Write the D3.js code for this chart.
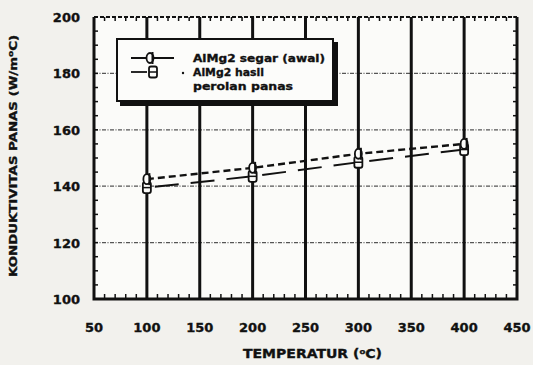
<!DOCTYPE html>
<html>
<head>
<meta charset="utf-8">
<script src="https://cdn.jsdelivr.net/npm/d3@7"></script>
<style>
  body { margin: 0; background: #f2f1ed; }
  svg { display: block; }
  text { font-family: 'DejaVu Sans', sans-serif; font-weight: bold; fill: #111; stroke: #111; stroke-width: 0.35px; }
</style>
</head>
<body>
<div id="chart"></div>
<script>
// data
const temps = [100, 200, 300, 400];
const segarValues = [142.5, 146.5, 151.5, 155];
const hasilValues = [139.5, 143.5, 148.5, 153];
const xTicks = [50, 100, 150, 200, 250, 300, 350, 400, 450];
const yTicks = [100, 120, 140, 160, 180, 200];
const gridVertical = [100, 150, 200, 250, 300, 350, 400];
const gridHorizontal = [120, 140, 160, 180];
const legendLabels = ['AlMg2 segar (awal)', 'AlMg2 hasil', 'perolan panas'];

const width = 533, height = 365;
const svg = d3.select('#chart').append('svg')
  .attr('width', width)
  .attr('height', height);

const x = d3.scaleLinear().domain([50, 450]).range([94, 517]);
const y = d3.scaleLinear().domain([100, 200]).range([299, 17]);

// plot background
svg.append('rect')
  .attr('x', x(50)).attr('y', y(200))
  .attr('width', x(450) - x(50)).attr('height', y(100) - y(200))
  .attr('fill', '#fbfbf9');

// horizontal dotted gridlines
svg.append('g')
  .selectAll('line').data(gridHorizontal).enter()
  .append('line')
  .attr('x1', x(50)).attr('x2', x(450))
  .attr('y1', d => y(d)).attr('y2', d => y(d))
  .style('stroke', '#555')
  .style('stroke-width', 1.2)
  .style('stroke-dasharray', '4,1.5,1,1.5');

// minor ticks on x (bottom and top)
const xMinor = d3.range(50, 451, 10);
svg.append('g').selectAll('line').data(xMinor).enter()
  .append('line')
  .attr('x1', d => x(d)).attr('x2', d => x(d))
  .attr('y1', y(100)).attr('y2', y(100) - 5)
  .style('stroke', '#111').style('stroke-width', 1.5);
svg.append('g').selectAll('line').data(xMinor).enter()
  .append('line')
  .attr('x1', d => x(d)).attr('x2', d => x(d))
  .attr('y1', y(200)).attr('y2', y(200) + 4)
  .style('stroke', '#111').style('stroke-width', 1.5);

// minor ticks on y (left and right)
const yMinor = d3.range(100, 201, 5);
svg.append('g').selectAll('line').data(yMinor).enter()
  .append('line')
  .attr('x1', x(50)).attr('x2', x(50) + 4)
  .attr('y1', d => y(d)).attr('y2', d => y(d))
  .style('stroke', '#111').style('stroke-width', 1.5);
svg.append('g').selectAll('line').data(yMinor).enter()
  .append('line')
  .attr('x1', x(450)).attr('x2', x(450) - 4)
  .attr('y1', d => y(d)).attr('y2', d => y(d))
  .style('stroke', '#111').style('stroke-width', 1.5);

// thick vertical lines
svg.append('g')
  .selectAll('line').data(gridVertical).enter()
  .append('line')
  .attr('x1', d => x(d)).attr('x2', d => x(d))
  .attr('y1', y(200)).attr('y2', y(100))
  .style('stroke', '#111')
  .style('stroke-width', 3);

// frame
svg.append('line')
  .attr('x1', x(50)).attr('x2', x(450)).attr('y1', y(200)).attr('y2', y(200))
  .style('stroke', '#111').style('stroke-width', 1.8).style('stroke-dasharray', '4,2');
svg.append('path')
  .attr('d', `M${x(50)},${y(200)} L${x(50)},${y(100)} L${x(450)},${y(100)} L${x(450)},${y(200)}`)
  .style('stroke', '#111').style('stroke-width', 3).style('fill', 'none');

// tick labels
svg.append('g').selectAll('text').data(xTicks).enter()
  .append('text')
  .attr('x', d => x(d)).attr('y', 332)
  .attr('text-anchor', 'middle')
  .style('font-size', '13px')
  .text(d => d);
svg.append('g').selectAll('text').data(yTicks).enter()
  .append('text')
  .attr('x', 80).attr('y', d => y(d) + 5)
  .attr('text-anchor', 'end')
  .style('font-size', '13px')
  .text(d => d);

// axis titles
const xt = svg.append('text')
  .attr('x', 243).attr('y', 358)
  .attr('textLength', 139).attr('lengthAdjust', 'spacingAndGlyphs')
  .style('font-size', '11.5px');
xt.append('tspan').text('TEMPERATUR (');
xt.append('tspan').attr('dy', -4).style('font-size', '7px').text('o');
xt.append('tspan').attr('dy', 4).text('C)');

const yt = svg.append('text')
  .attr('transform', `translate(17,277) rotate(-90)`)
  .attr('textLength', 242).attr('lengthAdjust', 'spacingAndGlyphs')
  .style('font-size', '10.5px');
yt.append('tspan').text('KONDUKTIVITAS PANAS (W/m');
yt.append('tspan').attr('dy', -4).style('font-size', '7px').text('o');
yt.append('tspan').attr('dy', 4).text('C)');

// series lines
const line = d3.line().x(d => x(d[0])).y(d => y(d[1]));
svg.append('path')
  .datum(temps.map((t, i) => [t, hasilValues[i]]))
  .attr('d', line)
  .style('stroke', '#111').style('stroke-width', 2)
  .style('stroke-dasharray', '24,12').style('stroke-dashoffset', -8)
  .style('fill', 'none');
svg.append('path')
  .datum(temps.map((t, i) => [t, segarValues[i]]))
  .attr('d', line)
  .style('stroke', '#111').style('stroke-width', 2.4)
  .style('stroke-dasharray', '7,4')
  .style('fill', 'none');

// markers
const circleMarker = (g, cx, cy) => {
  g.append('ellipse')
    .attr('cx', cx).attr('cy', cy).attr('rx', 3.5).attr('ry', 5)
    .style('stroke', '#111').style('stroke-width', 1.8).style('fill', '#fbfbf9');
  g.append('line')
    .attr('x1', cx + 2.5).attr('x2', cx + 2.5).attr('y1', cy - 6).attr('y2', cy + 6)
    .style('stroke', '#111').style('stroke-width', 2);
};
const boxMarker = (g, cx, cy) => {
  g.append('rect')
    .attr('x', cx - 4).attr('y', cy - 5.5).attr('width', 8).attr('height', 11).attr('rx', 2)
    .style('stroke', '#111').style('stroke-width', 1.8).style('fill', '#fbfbf9');
  g.append('line')
    .attr('x1', cx - 4).attr('x2', cx + 4).attr('y1', cy).attr('y2', cy)
    .style('stroke', '#111').style('stroke-width', 1.5);
};
const markers = svg.append('g');
temps.forEach((t, i) => {
  boxMarker(markers, x(t), y(hasilValues[i]));
  circleMarker(markers, x(t), y(segarValues[i]));
});

// legend
const legend = svg.append('g');
legend.append('rect')
  .attr('x', 120).attr('y', 42).attr('width', 218).attr('height', 64)
  .style('fill', '#111');
legend.append('rect')
  .attr('x', 117).attr('y', 39).attr('width', 216).attr('height', 62)
  .style('fill', '#fcfcfa').style('stroke', '#111').style('stroke-width', 2);

legend.append('line')
  .attr('x1', 131).attr('x2', 174).attr('y1', 58).attr('y2', 58)
  .style('stroke', '#111').style('stroke-width', 1.8);
circleMarker(legend, 150, 58);
legend.append('line')
  .attr('x1', 131).attr('x2', 147).attr('y1', 72).attr('y2', 72)
  .style('stroke', '#111').style('stroke-width', 1.8);
boxMarker(legend, 153, 72);
legend.append('circle')
  .attr('cx', 183).attr('cy', 73).attr('r', 1.2).style('fill', '#111');

legend.selectAll('text.lbl').data(legendLabels).enter()
  .append('text')
  .attr('class', 'lbl')
  .attr('x', 193)
  .attr('y', (d, i) => 62 + i * 14)
  .attr('textLength', (d, i) => [132, 71, 100][i])
  .attr('lengthAdjust', 'spacingAndGlyphs')
  .style('font-size', '11px')
  .text(d => d);
</script>
</body>
</html>
